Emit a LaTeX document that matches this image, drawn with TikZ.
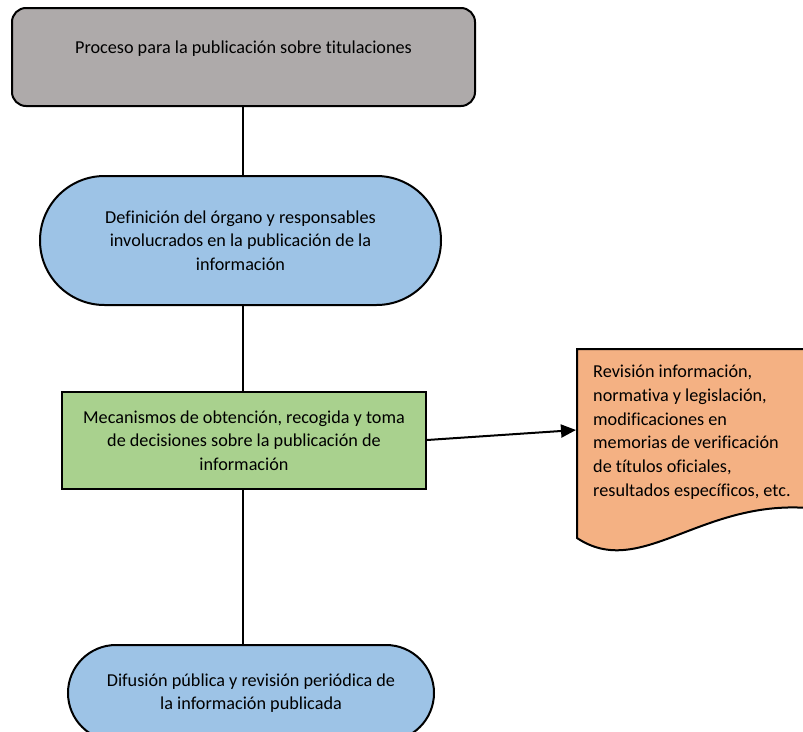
\documentclass[tikz,border=0pt]{standalone}
\usepackage{fontspec}
\setmainfont{Carlito}[Ligatures={NoCommon,NoRare}]
\usetikzlibrary{shapes.misc,arrows.meta}
\definecolor{cgray}{HTML}{AEAAAA}
\definecolor{cblue}{HTML}{9DC3E6}
\definecolor{cgreen}{HTML}{A9D18E}
\definecolor{corange}{HTML}{F4B183}
\tikzset{
  txt/.style={font=\fontsize{18.2pt}{23.7pt}\selectfont, align=center, inner sep=0pt},
  shapebox/.style={draw=black, line width=2pt, txt},
  link/.style={draw=black, line width=2pt},
}
\begin{document}
\begin{tikzpicture}[x=1pt,y=-1pt]
\useasboundingbox (0,0) rectangle (803,731);
\begin{scope}
\clip (0,0) rectangle (803,731);
% top box
\node[shapebox, fill=cgray, rounded corners=14pt, minimum width=463pt, minimum height=98pt,
      text height=13pt, text depth=20pt] (top) at (243.5,57) {Proceso para la publicación sobre titulaciones};
% definition stadium
\node[shapebox, fill=cblue, rounded rectangle, minimum width=401pt, minimum height=129pt] (def) at (240.5,240.5)
  {Definición del órgano y responsables\\involucrados en la publicación de la\\información};
% mechanisms box
\node[shapebox, fill=cgreen, rectangle, minimum width=364pt, minimum height=97pt] (mec) at (244,440.5)
  {Mecanismos de obtención, recogida y toma\\de decisiones sobre la publicación de\\información};
% diffusion stadium
\node[shapebox, fill=cblue, rounded rectangle, minimum width=366pt, minimum height=96pt] (dif) at (251,693)
  {Difusión pública y revisión periódica de\\la información publicada};
% document shape
\draw[line width=2pt, fill=corange] (577,349) -- (808,349) -- (808,508)
  .. controls (700,500) and (640,580) .. (577,538) -- cycle;
\coordinate (docin) at (576,430);
\node[txt, align=left, anchor=north west] (doc) at (593,365)
  {Revisión información,\\normativa y legislación,\\modificaciones en\\memorias de verificación\\de títulos oficiales,\\resultados específicos, etc.};
% connectors
\draw[link] (top.south -| 243,0) -- (def.north -| 243,0);
\draw[link] (def.south -| 243,0) -- (mec.north -| 243,0);
\draw[link] (mec.south -| 243,0) -- (dif.north -| 243,0);
\draw[link, -{Triangle[length=15pt,width=13pt]}] (mec.east |- 0,440) -- (docin);
\end{scope}
\end{tikzpicture}
\end{document}
